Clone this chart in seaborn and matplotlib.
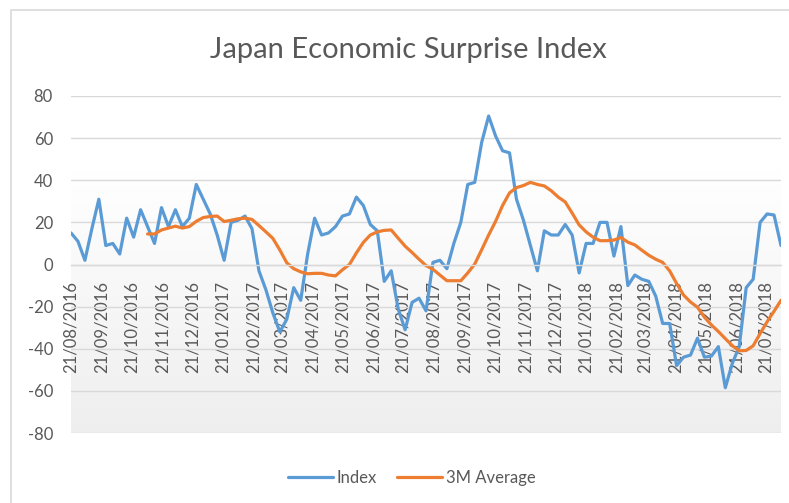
import numpy as np
import pandas as pd
import seaborn as sns
import matplotlib.pyplot as plt
from matplotlib.patches import Rectangle

# weekly readings, first week 21/08/2016
start_date = '2016-08-21'
index_vals = [15, 11, 2, 17, 31, 9, 10, 5, 22, 13,
              26, 18, 10, 27, 18, 26, 18, 22, 38, 31,
              24, 14, 2, 20, 21, 23, 17, -3, -12, -23,
              -32, -26, -11, -17, 5, 22, 14, 15, 18, 23,
              24, 32, 28, 19, 16, -8, -3, -21, -31, -18,
              -16, -22, 1, 2, -2, 10, 20, 38, 39, 58,
              70.5, 61, 54, 53, 31, 21, 9, -3, 16, 14,
              14, 19, 14, -4, 10, 10, 20, 20, 4, 18,
              -10, -5, -7, -8, -15, -28, -28, -48, -44, -43,
              -35, -44, -43.5, -39, -58.5, -47, -39, -11, -7, 20,
              24, 23.5, 9]
avg_vals = [np.nan] * 11 + [
    14.5, 14.5, 16.4, 17.3, 18.2, 17.3, 18, 20.5, 22.3, 22.8,
    23, 20.4, 21, 21.7, 22, 21.4, 18.5, 15.5, 12.4, 6.9,
    0.8, -2, -3.5, -4.4, -4.2, -4.2, -5, -5.4, -2.5, 0,
    5.5, 10.5, 14, 15.5, 16.2, 16.4, 12.5, 8.7, 5.7, 2.5,
    -0.5, -2.3, -5, -7.7, -7.7, -7.7, -4, 0.2, 7, 14,
    20.5, 28, 34, 36.5, 37.5, 39, 38, 37.3, 35, 32,
    29.7, 24.4, 18.8, 15.5, 13, 11.3, 11.3, 11.6, 12.8, 10.6,
    9.3, 6.8, 4.4, 2.5, 1, -3, -9, -14.5, -17.8, -20.3,
    -25, -28.7, -31.8, -35.2, -38.5, -41, -40.8, -38.6, -32.8, -27.2,
    -22.2, -17]
tick_labels = ['21/08/2016', '21/09/2016', '21/10/2016', '21/11/2016', '21/12/2016',
               '21/01/2017', '21/02/2017', '21/03/2017', '21/04/2017', '21/05/2017',
               '21/06/2017', '21/07/2017', '21/08/2017', '21/09/2017', '21/10/2017',
               '21/11/2017', '21/12/2017', '21/01/2018', '21/02/2018', '21/03/2018',
               '21/04/2018', '21/05/2018', '21/06/2018', '21/07/2018']
y_ticks = [-80, -60, -40, -20, 0, 20, 40, 60, 80]

df = pd.DataFrame({'Date': pd.date_range(start_date, periods=len(index_vals), freq='7D'),
                   'Index': index_vals, '3M Average': avg_vals})

sns.set_theme(style='white')
plt.rcParams['font.family'] = ['Lato', 'DejaVu Sans']
plt.rcParams['axes.unicode_minus'] = False

grey = '#595959'
fig = plt.figure(figsize=(7.89, 5.03), dpi=100)
ax = fig.add_axes([71 / 789, 1 - 433 / 503, 710 / 789, 337 / 503])

# chart area border
fig.patches.append(Rectangle((11 / 789, -0.1), 1.2, 1.1 - 10 / 503, transform=fig.transFigure,
                             fill=False, edgecolor='#d9d9d9', linewidth=1.2, zorder=-1))

# plot area gradient: white at the top, light grey at the bottom
t = np.linspace(0, 1, 256)
shade = np.where(t < 0.22, 1.0, 1.0 - (t - 0.22) / 0.78 * 0.065)
grad = np.repeat(shade[:, None, None], 3, axis=2)
ax.imshow(grad, extent=[0, 1, 0, 1], transform=ax.transAxes, aspect='auto', zorder=0)

sns.lineplot(data=df, x='Date', y='Index', ax=ax, color='#5b9bd5', linewidth=2.3, label='Index')
sns.lineplot(data=df, x='Date', y='3M Average', ax=ax, color='#ed7d31', linewidth=2.3, label='3M Average')

# axis line at zero first (this resets the ticks)
for s in ['top', 'right', 'left']:
    ax.spines[s].set_visible(False)
ax.spines['bottom'].set_position(('data', 0))
ax.spines['bottom'].set_color('#d9d9d9')
ax.spines['bottom'].set_linewidth(1.0)

ax.set_xlim(df['Date'].iloc[0], df['Date'].iloc[-1])
ax.set_ylim(-80, 80)
ax.set_yticks(y_ticks)
ax.set_xticks(pd.to_datetime(tick_labels, format='%d/%m/%Y'))
ax.set_xticklabels(tick_labels)
ax.set_xlabel('')
ax.set_ylabel('')

ax.grid(axis='y', color='#d9d9d9', linewidth=1.0)
ax.grid(axis='x', visible=False)
ax.set_axisbelow(True)
ax.tick_params(axis='x', length=0, pad=12, labelsize=12, labelcolor=grey, labelrotation=90)
ax.tick_params(axis='y', length=0, pad=13, labelsize=12, labelcolor=grey)

fig.text(408 / 789, 1 - 50 / 503, 'Japan Economic Surprise Index', ha='center', va='center',
         fontsize=21, color=grey)

ax.legend(loc='center', bbox_to_anchor=(412 / 789, 1 - 478 / 503), bbox_transform=fig.transFigure,
          ncol=2, frameon=False, fontsize=12, handlelength=2.7, handletextpad=0.25,
          columnspacing=1.2, labelcolor=grey)

fig.savefig('out.png', dpi=100)
